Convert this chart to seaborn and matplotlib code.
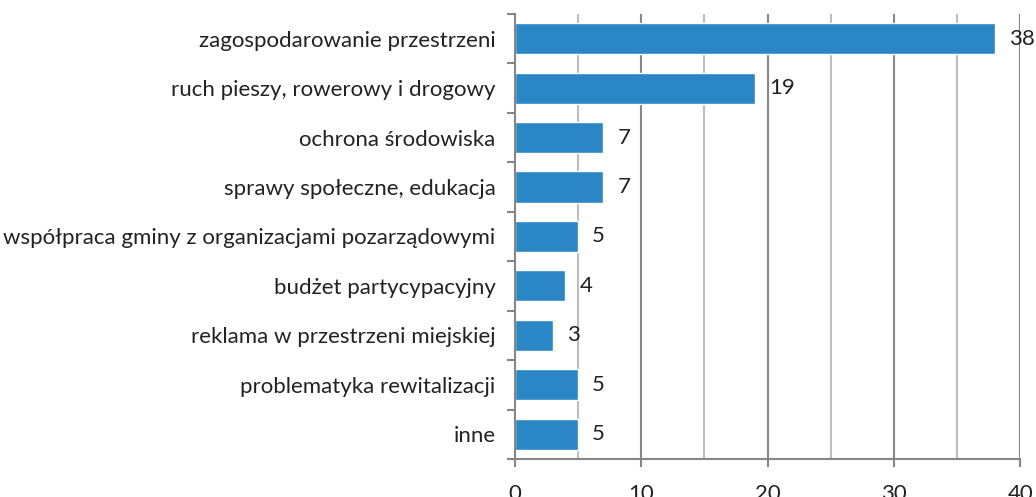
import matplotlib
matplotlib.use("Agg")
import matplotlib.pyplot as plt
import seaborn as sns
import pandas as pd
import numpy as np

categories = [
    "zagospodarowanie przestrzeni",
    "ruch pieszy, rowerowy i drogowy",
    "ochrona środowiska",
    "sprawy społeczne, edukacja",
    "współpraca gminy z organizacjami pozarządowymi",
    "budżet partycypacyjny",
    "reklama w przestrzeni miejskiej",
    "problematyka rewitalizacji",
    "inne",
]
values = [38, 19, 7, 7, 5, 4, 3, 5, 5]
x_ticks = [0, 10, 20, 30, 40]

sns.set_theme(style="white")
plt.rcParams['font.family'] = ['Lato', 'DejaVu Sans']

df = pd.DataFrame({"cat": categories, "val": values})

fig = plt.figure(figsize=(10.36, 4.97), dpi=100)
ax = fig.add_axes([0.497, 0.0765, 0.488, 0.8955])

# gridlines
for v in [5, 15, 25, 35]:
    ax.axvline(v, color="#bdbdbd", lw=1.5, zorder=0)
for v in [10, 20, 30, 40]:
    ax.axvline(v, color="#868686", lw=1.5, zorder=0)

sns.barplot(data=df, x="val", y="cat", orient="h", color="#2a86c5",
            width=0.63, saturation=1, ax=ax, zorder=2)

fs = 16
ax.set_xlim(0, 40)
ax.set_ylim(8.5, -0.5)
ax.set_xlabel("")
ax.set_ylabel("")
ax.set_xticks(x_ticks)
ax.set_xticklabels([str(t) for t in x_ticks], fontsize=fs, color="#222222")
ax.tick_params(axis="x", direction="out", length=6, width=1.5, color="#868686",
               pad=12, bottom=True)
ax.tick_params(axis="y", which="major", length=0, pad=14, labelsize=fs,
               labelcolor="#222222")
ax.set_yticks(np.arange(-0.5, 9.0, 1.0), minor=True)
ax.tick_params(axis="y", which="minor", direction="out", length=6, width=1.5,
               color="#868686", left=True)

for s in ["top", "right"]:
    ax.spines[s].set_visible(False)
for s in ["left", "bottom"]:
    ax.spines[s].set_color("#868686")
    ax.spines[s].set_linewidth(1.5)

for i, v in enumerate(values):
    ax.annotate(str(v), xy=(v, i), xytext=(10, 0), textcoords="offset points",
                va="center", ha="left", fontsize=fs, color="#222222",
                annotation_clip=False, zorder=5)

fig.savefig("out.png", dpi=100)
